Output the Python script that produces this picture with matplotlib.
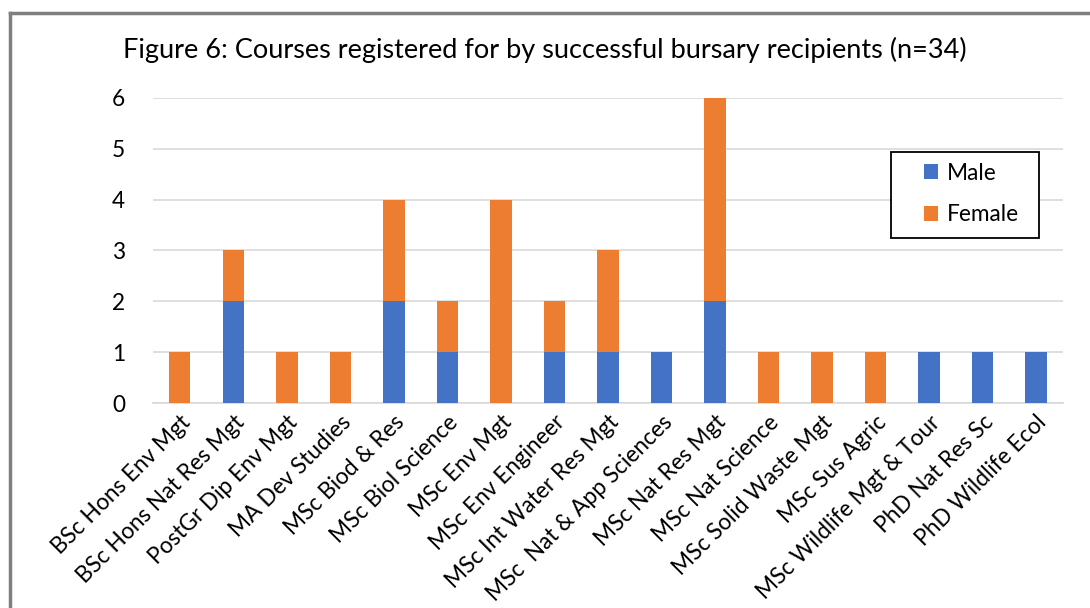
import matplotlib.pyplot as plt
from matplotlib.lines import Line2D
from matplotlib.patches import Rectangle

courses = ["BSc Hons Env Mgt", "BSc Hons Nat Res Mgt", "PostGr Dip Env Mgt",
           "MA Dev Studies", "MSc Biod & Res", "MSc Biol Science", "MSc Env Mgt",
           "MSc Env Engineer", "MSc Int Water Res Mgt", "MSc  Nat & App Sciences",
           "MSc Nat Res Mgt", "MSc Nat Science", "MSc Solid Waste Mgt",
           "MSc Sus Agric", "MSc Wildlife Mgt & Tour", "PhD Nat Res Sc",
           "PhD Wildlife Ecol"]
male = [0, 2, 0, 0, 2, 1, 0, 1, 1, 1, 2, 0, 0, 0, 1, 1, 1]
female = [1, 1, 1, 1, 2, 1, 4, 1, 2, 0, 4, 1, 1, 1, 0, 0, 0]

plt.rcParams['font.family'] = ['Lato', 'DejaVu Sans']

fig = plt.figure(figsize=(10.9, 6.08), dpi=100)
ax = fig.add_axes([0.1404, 0.337, 0.8346, 0.502])

x = range(len(courses))
ax.bar(x, male, width=0.4, color='#4472C4', label='Male', zorder=3)
ax.bar(x, female, width=0.4, bottom=male, color='#ED7D31', label='Female', zorder=3)

ax.set_ylim(0, 6)
ax.set_xlim(-0.5, len(courses) - 0.5)
ax.set_yticks(range(7))
ax.yaxis.grid(True, color='#D9D9D9', linewidth=1.2, zorder=0)
ax.set_axisbelow(True)
for s in ['top', 'right', 'left']:
    ax.spines[s].set_visible(False)
ax.spines['bottom'].set_color('#D9D9D9')
ax.spines['bottom'].set_linewidth(1.2)
ax.tick_params(axis='both', length=0, labelsize=16.3)
ax.tick_params(axis='y', pad=20)
ax.tick_params(axis='x', pad=6)
ax.set_xticks(list(x))
ax.set_xticklabels(courses, rotation=45, ha='right', rotation_mode='anchor')

fig.text(0.5, 0.918, "Figure 6: Courses registered for by successful bursary recipients (n=34)",
         ha='center', va='center', fontsize=19.5)

# legend box drawn separately so padding can match
fig.add_artist(Rectangle((0.8174, 0.6086), 0.1358, 0.1414, transform=fig.transFigure,
                         facecolor='white', edgecolor='black', linewidth=1.3, zorder=5))
leg = fig.legend(*ax.get_legend_handles_labels(), loc='center left',
                 bbox_to_anchor=(0.8477, 0.681), fontsize=16.3, frameon=False,
                 handlelength=0.6, handleheight=0.6, labelspacing=0.92, borderpad=0,
                 handletextpad=0.4, borderaxespad=0)
leg.set_zorder(6)

# grey outer border (left and top visible)
fig.add_artist(Line2D([0.0092, 0.0092], [0, 0.979], color='#7F7F7F', linewidth=2.5))
fig.add_artist(Line2D([0.0092, 1.0], [0.979, 0.979], color='#7F7F7F', linewidth=2.5))

fig.savefig('out.png', dpi=100)
